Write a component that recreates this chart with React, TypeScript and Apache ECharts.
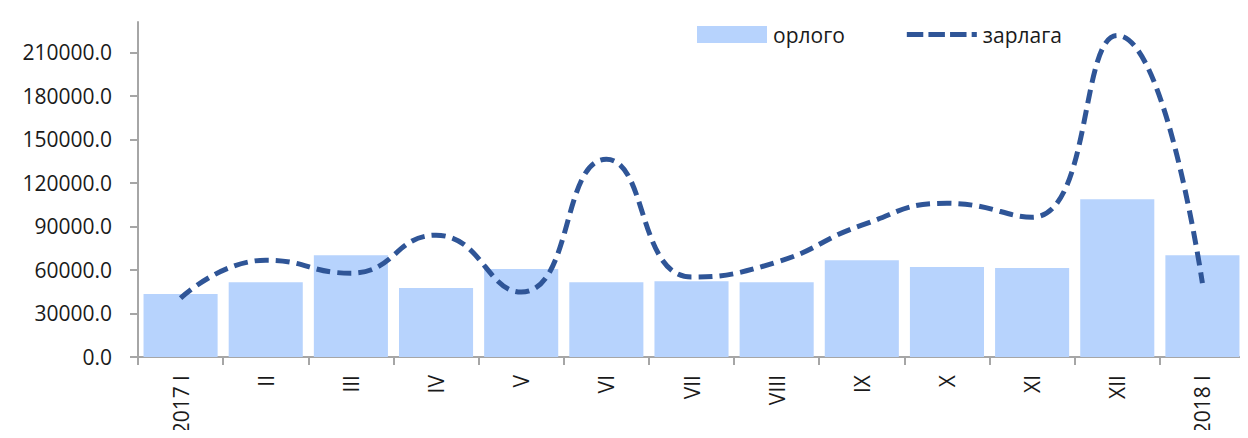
import React, { useEffect, useRef } from "react";
import * as echarts from "echarts";

const categories = ["2017 I", "II", "III", "IV", "V", "VI", "VII", "VIII", "IX", "X", "XI", "XII", "2018 I"];
const orlogo = [43400, 51600, 70200, 47500, 60600, 51600, 52300, 51600, 66800, 62000, 61300, 108800, 70200];
const zarlaga = [40600, 66800, 57800, 84000, 44750, 136300, 55100, 65400, 90900, 106000, 96400, 221700, 50900];

export default function App() {
  const ref = useRef<HTMLDivElement>(null);
  useEffect(() => {
    if (!ref.current) return;
    const chart = echarts.init(ref.current, null, { renderer: "svg" });
    const font = "'Open Sans', 'Noto Sans', sans-serif";
    const txt = "#1a1a1a";
    chart.setOption({
      animation: false,
      textStyle: { fontFamily: font },
      grid: { left: 138, right: 3, top: 22, bottom: 81, containLabel: false },
      legend: {
        left: 692,
        top: 19,
        itemWidth: 70,
        itemHeight: 17,
        itemGap: 62,
        symbolKeepAspect: true,
        textStyle: { fontSize: 21, color: txt, fontFamily: font, padding: [0, 0, 0, 1] },
        data: [
          { name: "орлого", icon: "rect" },
          {
            name: "зарлага",
            icon: "path://M0,0h16v5h-16z M21,0h16v5h-16z M42,0h16v5h-16z M63,0h5v5h-5z",
            itemStyle: { color: "#2f5597", borderWidth: 0 },
          },
        ],
      },
      xAxis: {
        type: "category",
        data: categories,
        axisLine: { lineStyle: { color: "#a6a6a6", width: 2 } },
        axisTick: { show: true, length: 8, lineStyle: { color: "#a6a6a6", width: 2 } },
        axisLabel: { rotate: 90, fontSize: 21, color: txt, margin: 18, fontFamily: font },
      },
      yAxis: {
        type: "value",
        min: 0,
        max: 231000,
        interval: 30000,
        splitLine: { show: false },
        axisLine: { show: true, lineStyle: { color: "#a6a6a6", width: 2 } },
        axisTick: { show: true, length: 8, lineStyle: { color: "#a6a6a6", width: 2 } },
        axisLabel: {
          showMaxLabel: false,
          fontSize: 21,
          color: txt,
          margin: 26,
          fontFamily: font,
          formatter: (v: number) => v.toFixed(1),
        },
      },
      series: [
        {
          name: "орлого",
          type: "bar",
          data: orlogo,
          barCategoryGap: "13%",
          itemStyle: { color: "#b7d3fd" },
        },
        {
          name: "зарлага",
          type: "line",
          data: zarlaga,
          smooth: 0.5,
          symbol: "none",
          lineStyle: { color: "#2f5597", width: 5, type: [14, 7] },
          itemStyle: { color: "#2f5597" },
        },
      ],
    });
    return () => chart.dispose();
  }, []);
  return <div ref={ref} style={{ width: 1248, height: 438, margin: -8 }} />;
}
